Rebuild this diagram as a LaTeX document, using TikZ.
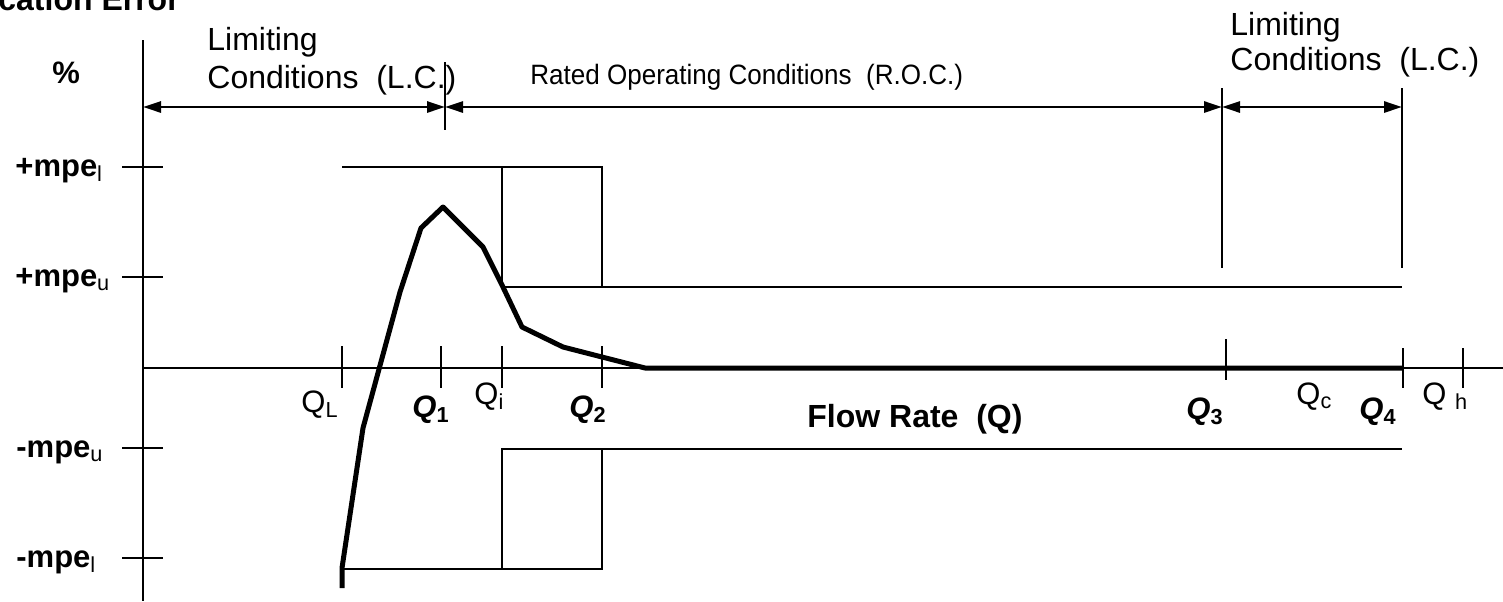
\documentclass[tikz,border=0pt]{standalone}
\usepackage{fontspec}
\setmainfont{Liberation Sans}
\usetikzlibrary{arrows.meta}

\newcommand{\lowsub}[1]{\textsubscript{#1}}
\newcommand{\bq}[1]{{\bfseries\itshape Q}\textsubscript{\bfseries #1}}

\begin{document}
\begin{tikzpicture}[x=0.5pt, y=-0.5pt,
    thinline/.style={line width=1pt},
    errcurve/.style={line width=2.5pt, line join=round},
    dimarrow/.style={line width=1.4pt, {Triangle[length=9pt,width=5.5pt]}-{Triangle[length=9pt,width=5.5pt]}},
    txt/.style={inner sep=0pt, anchor=base west},
    big/.style={font=\fontsize{16}{18}\selectfont},
    mid/.style={font=\fontsize{14}{16}\selectfont\addfontfeatures{FakeStretch=0.93}},
    ylab/.style={font=\fontsize{15.5}{17}\selectfont\bfseries},
    qlab/.style={font=\fontsize{15.5}{17}\selectfont}]
    \clip (0,0) rectangle (1503,601);

    % axes
    \coordinate (orgtop) at (143,40);
    \coordinate (orgbot) at (143,601);
    \coordinate (xleft) at (143,368);
    \coordinate (xright) at (1503,368);
    \draw[thinline] (orgtop) -- (orgbot);
    \draw[thinline] (xleft) -- (xright);

    % y ticks and labels
    \foreach \yy in {167,277,448,558}
        \draw[thinline] (122,\yy) -- (163,\yy);
    \node[txt, ylab] (pl) at (15,176) {+mpe\lowsub{\mdseries l}};
    \node[txt, ylab] (pu) at (15,286) {+mpe\lowsub{\mdseries u}};
    \node[txt, ylab] (mu) at (16,457) {-mpe\lowsub{\mdseries u}};
    \node[txt, ylab] (ml) at (16,567) {-mpe\lowsub{\mdseries l}};
    \node[txt, ylab] (pct) at (52,83) {\%};
    \node[txt, font=\fontsize{16}{18}\selectfont\bfseries] (title) at (-2,10) {cation Error};

    % x ticks
    \foreach \xx in {342,441,502,602}
        \draw[thinline] (\xx,346) -- (\xx,388);
    \draw[thinline] (1226,339) -- (1226,380);
    \foreach \xx in {1403,1463}
        \draw[thinline] (\xx,348) -- (\xx,388);

    % x labels
    \node[txt, qlab] (qL) at (301,412) {Q\lowsub{L}};
    \node[txt, qlab] (q1) at (412,417) {\bq{1}};
    \node[txt, qlab] (qi) at (474,404) {Q\lowsub{i}};
    \node[txt, qlab] (q2) at (569,417) {\bq{2}};
    \node[txt, font=\fontsize{16}{18}\selectfont\bfseries] (flow) at (807,427) {Flow Rate~ (Q)};
    \node[txt, qlab] (q3) at (1186,419) {\bq{3}};
    \node[txt, qlab] (qc) at (1296,404) {Q\lowsub{c}};
    \node[txt, qlab] (q4) at (1359,419) {\bq{4}};
    \node[txt, qlab] (qh) at (1422,404) {Q \lowsub{h}};

    % condition limits
    \coordinate (lc1) at (143,107);
    \coordinate (lc2) at (445,107);
    \coordinate (lc3) at (1222,107);
    \coordinate (lc4) at (1402,107);
    \draw[thinline] (445,62) -- (445,130);
    \draw[thinline] (1222,88) -- (1222,268);
    \draw[thinline] (1402,88) -- (1402,268);
    \draw[dimarrow] (lc1) -- (lc2);
    \draw[dimarrow] (lc2) -- (lc3);
    \draw[dimarrow] (lc3) -- (lc4);
    \node[txt, big] (lim1) at (207,50) {Limiting};
    \node[txt, big] (cond1) at (207,88) {Conditions~ (L.C.)};
    \node[txt, mid] (roc) at (530,84) {Rated Operating Conditions~ (R.O.C.)};
    \node[txt, big] (lim2) at (1230,35) {Limiting};
    \node[txt, big] (cond2) at (1230,70) {Conditions~ (L.C.)};

    % error limits
    \draw[thinline] (342,167) -- (602,167) -- (602,287);
    \draw[thinline] (502,167) -- (502,287) -- (1402,287);
    \draw[thinline] (342,569) -- (602,569) -- (602,449);
    \draw[thinline] (502,569) -- (502,449) -- (1402,449);

    % error curve
    \draw[errcurve] (342,588) -- (342,568) -- (363,428) -- (400,292) -- (421,228)
        -- (443,207) -- (483,247) -- (502,285) -- (522,327) -- (563,347)
        -- (602,357) -- (645,368) -- (1402,368);
\end{tikzpicture}
\end{document}
